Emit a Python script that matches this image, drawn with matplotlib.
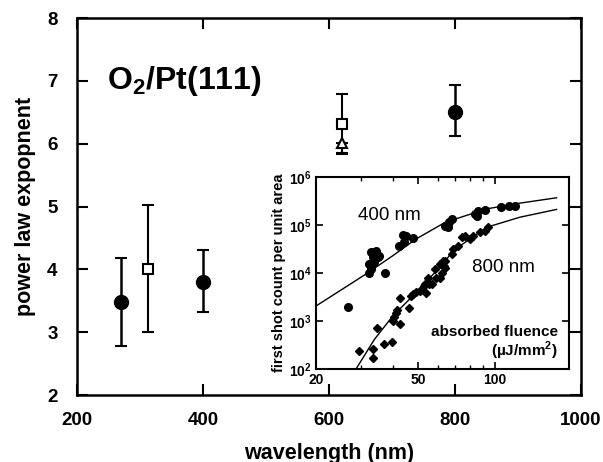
import matplotlib
matplotlib.use("Agg")
import matplotlib.pyplot as plt
import matplotlib.ticker as mticker
import numpy as np

plt.rcParams["font.family"] = ["Liberation Sans", "DejaVu Sans"]
plt.rcParams["font.weight"] = "bold"
plt.rcParams["mathtext.fontset"] = "custom"
plt.rcParams["mathtext.rm"] = "Liberation Sans:bold"
plt.rcParams["mathtext.bf"] = "Liberation Sans:bold"

# main panel: power law exponent vs wavelength
circ_wl = [270, 400, 800]
circ_exp = [3.48, 3.80, 6.50]
circ_lo = [0.70, 0.48, 0.38]
circ_hi = [0.70, 0.50, 0.43]

sq_wl = [312, 620]
sq_exp = [4.00, 6.31]
sq_lo = [1.00, 0.47]
sq_hi = [1.02, 0.48]

tri_wl = [620]
tri_exp = [6.01]
tri_err = [0.16]

# inset: first shot count vs absorbed fluence
f400 = [26.7, 32.8, 34.3, 33.3, 34.8, 35.3, 32.3, 33.8, 32.8, 32.3, 37.3,
        43.6, 42.3, 44.3, 44.8, 47.7, 64.0, 66.4, 67.8, 65.8, 83.6, 86.1,
        91.4, 84.9, 106, 113, 120]
c400 = [1950, 26900, 29100, 21100, 21100, 22900, 15300, 16600, 12000, 10200,
        9770, 63000, 37100, 43500, 60000, 53600, 97200, 114000, 134000, 89700,
        171000, 200000, 207000, 157000, 235000, 243000, 243000]

f800 = [29.4, 33.3, 33.4, 37.0, 39.6, 34.6, 42.7, 39.9, 40.4, 41.1, 41.6,
        42.5, 46.3, 47.0, 47.9, 49.2, 51.9, 52.9, 53.8, 55.5, 57.0, 58.9,
        60.9, 61.9, 63.4, 64.0, 51.0, 53.3, 54.9, 58.3, 61.0, 63.8, 62.9,
        67.8, 68.8, 71.9, 74.1, 76.4, 80.0, 82.4, 87.4, 91.4, 94.2]
c800 = [242, 267, 170, 324, 368, 700, 848, 995, 1210, 1490, 1670, 2970,
        1890, 3330, 3720, 4100, 4580, 5380, 3910, 5830, 6030, 8050, 8050,
        9770, 14100, 17400, 4240, 5830, 8050, 12000, 15300, 13000, 18000,
        24800, 31500, 37100, 55300, 60000, 51100, 60000, 70500, 76400, 89700]

# fitted curves
fit400_f = [20, 31.3, 39.9, 49.2, 64, 92.9, 125, 174]
fit400_c = [2050, 9460, 22900, 51100, 114000, 217000, 285000, 369000]
fit800_f = [28.5, 33.8, 39.9, 49.2, 63.4, 68.6, 92.9, 125, 174]
fit800_c = [95, 411, 1270, 3900, 16600, 29000, 89700, 145000, 211000]

fig = plt.figure(figsize=(6.03, 4.62), dpi=100)
ax = fig.add_axes([0.1277, 0.145, 0.8358, 0.816])

ax.errorbar(sq_wl, sq_exp, yerr=[sq_lo, sq_hi], fmt="s", ms=7, mfc="white",
            mec="black", mew=1.5, ecolor="black", elinewidth=1.5, capsize=4,
            capthick=1.5, zorder=3)
ax.errorbar(tri_wl, tri_exp, yerr=[tri_err, [0]], fmt="^", ms=7, mfc="white",
            mec="black", mew=1.5, ecolor="black", elinewidth=1.5, capsize=4,
            capthick=1.5, zorder=3)
ax.errorbar(circ_wl, circ_exp, yerr=[circ_lo, circ_hi], fmt="o", ms=10,
            color="black", ecolor="black", elinewidth=1.8, capsize=4,
            capthick=1.5, zorder=3)

ax.set_xlim(200, 1000)
ax.set_ylim(2, 8)
ax.set_xticks([200, 400, 600, 800, 1000])
ax.set_yticks([2, 3, 4, 5, 6, 7, 8])
ax.tick_params(direction="in", length=8, width=1.5, top=True, right=True,
               labelsize=13.5)
ax.tick_params(axis="x", pad=12)
ax.tick_params(axis="y", pad=14)
for s in ax.spines.values():
    s.set_linewidth(1.8)
ax.set_xlabel("wavelength (nm)", fontsize=15.5, fontweight="bold", labelpad=10)
ax.set_ylabel("power law expopnent", fontsize=15.5, fontweight="bold", labelpad=8)
ax.text(371, 7.0, r"O$_\mathbf{2}$/Pt(111)", fontsize=23, fontweight="bold",
        ha="center", va="center")

# inset
axi = fig.add_axes([0.524, 0.2013, 0.420, 0.4156])
axi.set_xscale("log")
axi.set_yscale("log")
axi.plot(fit400_f, fit400_c, color="black", lw=1.0)
axi.plot(fit800_f, fit800_c, color="black", lw=1.0)
axi.plot(f400, c400, "o", color="black", ms=5.5)
axi.plot(f800, c800, "D", color="black", ms=4)
axi.set_xlim(20, 195)
axi.set_ylim(100, 1e6)
axi.xaxis.set_major_locator(mticker.FixedLocator([20, 50, 100]))
axi.xaxis.set_major_formatter(mticker.FixedFormatter(["20", "50", "100"]))
axi.xaxis.set_minor_locator(mticker.FixedLocator([30, 40, 60, 70, 80, 90]))
axi.xaxis.set_minor_formatter(mticker.NullFormatter())
axi.yaxis.set_major_locator(mticker.FixedLocator([1e2, 1e3, 1e4, 1e5, 1e6]))
axi.yaxis.set_major_formatter(mticker.FixedFormatter(
    [r"$\mathbf{10^{2}}$", r"$\mathbf{10^{3}}$", r"$\mathbf{10^{4}}$",
     r"$\mathbf{10^{5}}$", r"$\mathbf{10^{6}}$"]))
axi.yaxis.set_minor_locator(mticker.NullLocator())
axi.tick_params(which="major", direction="in", length=5, width=1.2, top=True,
                right=True, labelsize=10)
axi.tick_params(axis="x", which="major", pad=3)
axi.tick_params(axis="y", which="major", pad=3)
axi.tick_params(which="minor", direction="in", length=3, width=1.0, top=True,
                right=True)
for s in axi.spines.values():
    s.set_linewidth(1.5)
axi.set_ylabel("first shot count per unit area", fontsize=10.5,
               fontweight="bold", labelpad=2)
axi.text(0.166, 0.80, "400 nm", transform=axi.transAxes, fontsize=13.5,
         fontweight="normal", ha="left", va="center")
axi.text(0.617, 0.53, "800 nm", transform=axi.transAxes, fontsize=13.5,
         fontweight="normal", ha="left", va="center")
axi.text(0.955, 0.135, "absorbed fluence\n(µJ/mm$^\\mathbf{2}$)",
         transform=axi.transAxes, fontsize=11, fontweight="bold", ha="right",
         va="center", multialignment="right", linespacing=1.05)

fig.savefig("out.png", dpi=100)
